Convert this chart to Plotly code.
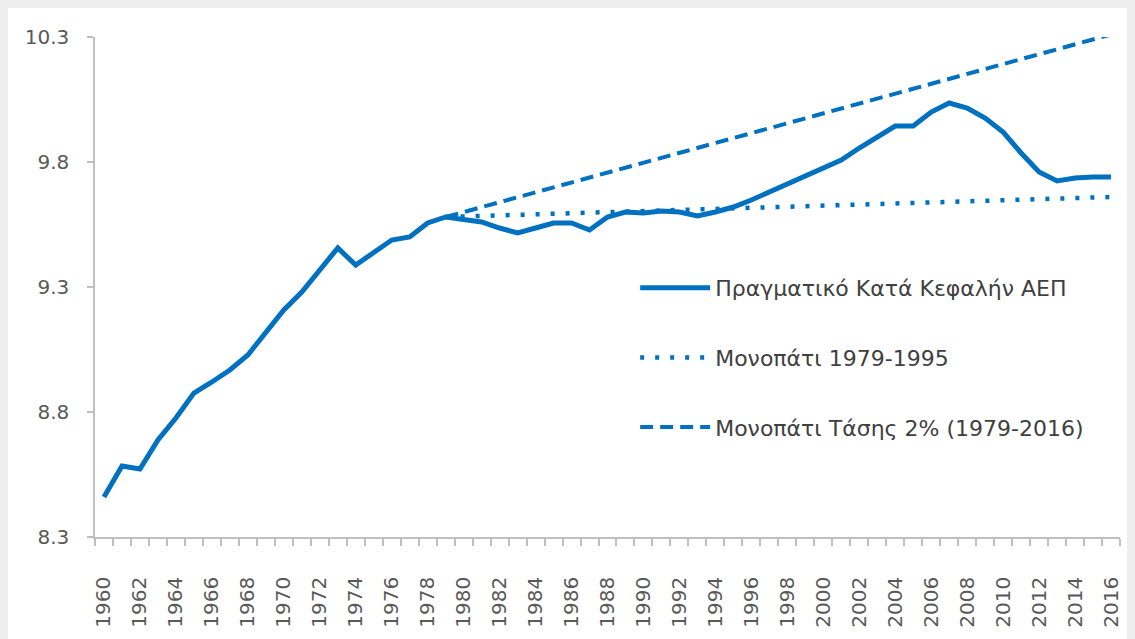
import plotly.graph_objects as go

years = list(range(1960, 2017))
gdp = [8.460, 8.584, 8.572, 8.688, 8.776, 8.876, 8.920, 8.968, 9.028, 9.120,
       9.208, 9.280, 9.368, 9.456, 9.388, 9.436, 9.488, 9.500, 9.556, 9.580,
       9.572, 9.560, 9.536, 9.516, 9.536, 9.556, 9.556, 9.528, 9.580, 9.600,
       9.596, 9.604, 9.600, 9.584, 9.600, 9.620, 9.648, 9.680, 9.708, 9.740,
       9.776, 9.808, 9.856, 9.900, 9.944, 9.944, 10.000, 10.036, 10.016, 9.976,
       9.920, 9.836, 9.760, 9.724, 9.736, 9.740, 9.740]

path_years = [1979, 2016]
path_1979_1995 = [9.580, 9.660]
trend_years = [1979, 2016]
trend_2pct = [9.580, 10.310]

y_ticks = [8.3, 8.8, 9.3, 9.8, 10.3]
x_ticks = list(range(1960, 2017, 2))

names = ["Πραγματικό Κατά Κεφαλήν ΑΕΠ",
         "Μονοπάτι 1979-1995",
         "Μονοπάτι Τάσης 2% (1979-2016)"]

BLUE = "#0070C0"
FONT = "DejaVu Sans"
GRAY_BG = "#eeeeee"

fig = go.Figure()
fig.add_trace(go.Scatter(x=years, y=gdp, mode="lines", name=names[0],
                         legendgroup="a",
                         line=dict(color=BLUE, width=5)))
fig.add_trace(go.Scatter(x=path_years, y=path_1979_1995, mode="lines", name=names[1],
                         legendgroup="b",
                         line=dict(color=BLUE, width=4.5, dash="4px,11px")))
fig.add_trace(go.Scatter(x=trend_years, y=trend_2pct, mode="lines", name=names[2],
                         legendgroup="c",
                         line=dict(color=BLUE, width=4, dash="13px,7px")))

fig.update_layout(
    width=1127, height=631,
    margin=dict(l=87, r=15, t=29, b=102),
    paper_bgcolor="white",
    plot_bgcolor="white",
    font=dict(family=FONT, color="#595959"),
    showlegend=True,
    legend=dict(x=0.527, y=0.540, xanchor="left", yanchor="top",
                bgcolor="rgba(0,0,0,0)", tracegroupgap=38,
                itemwidth=70,
                font=dict(family=FONT, size=22, color="#404040")),
    shapes=[dict(type="rect", xref="paper", yref="paper",
                 x0=(1120 - 87) / 1025, x1=(1130 - 87) / 1025,
                 y0=-0.3, y1=1.1,
                 fillcolor=GRAY_BG, line=dict(width=0), layer="below")],
)

fig.update_xaxes(
    range=[1959.5, 2016.5],
    tickmode="array", tickvals=x_ticks, ticktext=[str(v) for v in x_ticks],
    tickangle=-90, ticks="", showgrid=False, zeroline=False,
    showline=True, linecolor="#bfbfbf", linewidth=1.5,
    tickfont=dict(size=20, color="#595959"),
    ticklabelstandoff=30,
    minor=dict(ticks="outside", tick0=1959.5, dtick=1, ticklen=7,
               tickcolor="#bfbfbf", tickwidth=1.5, showgrid=False),
)
fig.update_yaxes(
    range=[8.3, 10.3],
    tickmode="array", tickvals=y_ticks, ticktext=[f"{v:.1f}" for v in y_ticks],
    ticks="outside", ticklen=6, tickcolor="#bfbfbf", tickwidth=1.5,
    showgrid=False, zeroline=False,
    showline=True, linecolor="#bfbfbf", linewidth=1.5,
    tickfont=dict(size=20, color="#595959"),
    ticklabelstandoff=14,
)

fig.write_html("out.html",
               post_script="document.body.style.background='%s';" % GRAY_BG)
